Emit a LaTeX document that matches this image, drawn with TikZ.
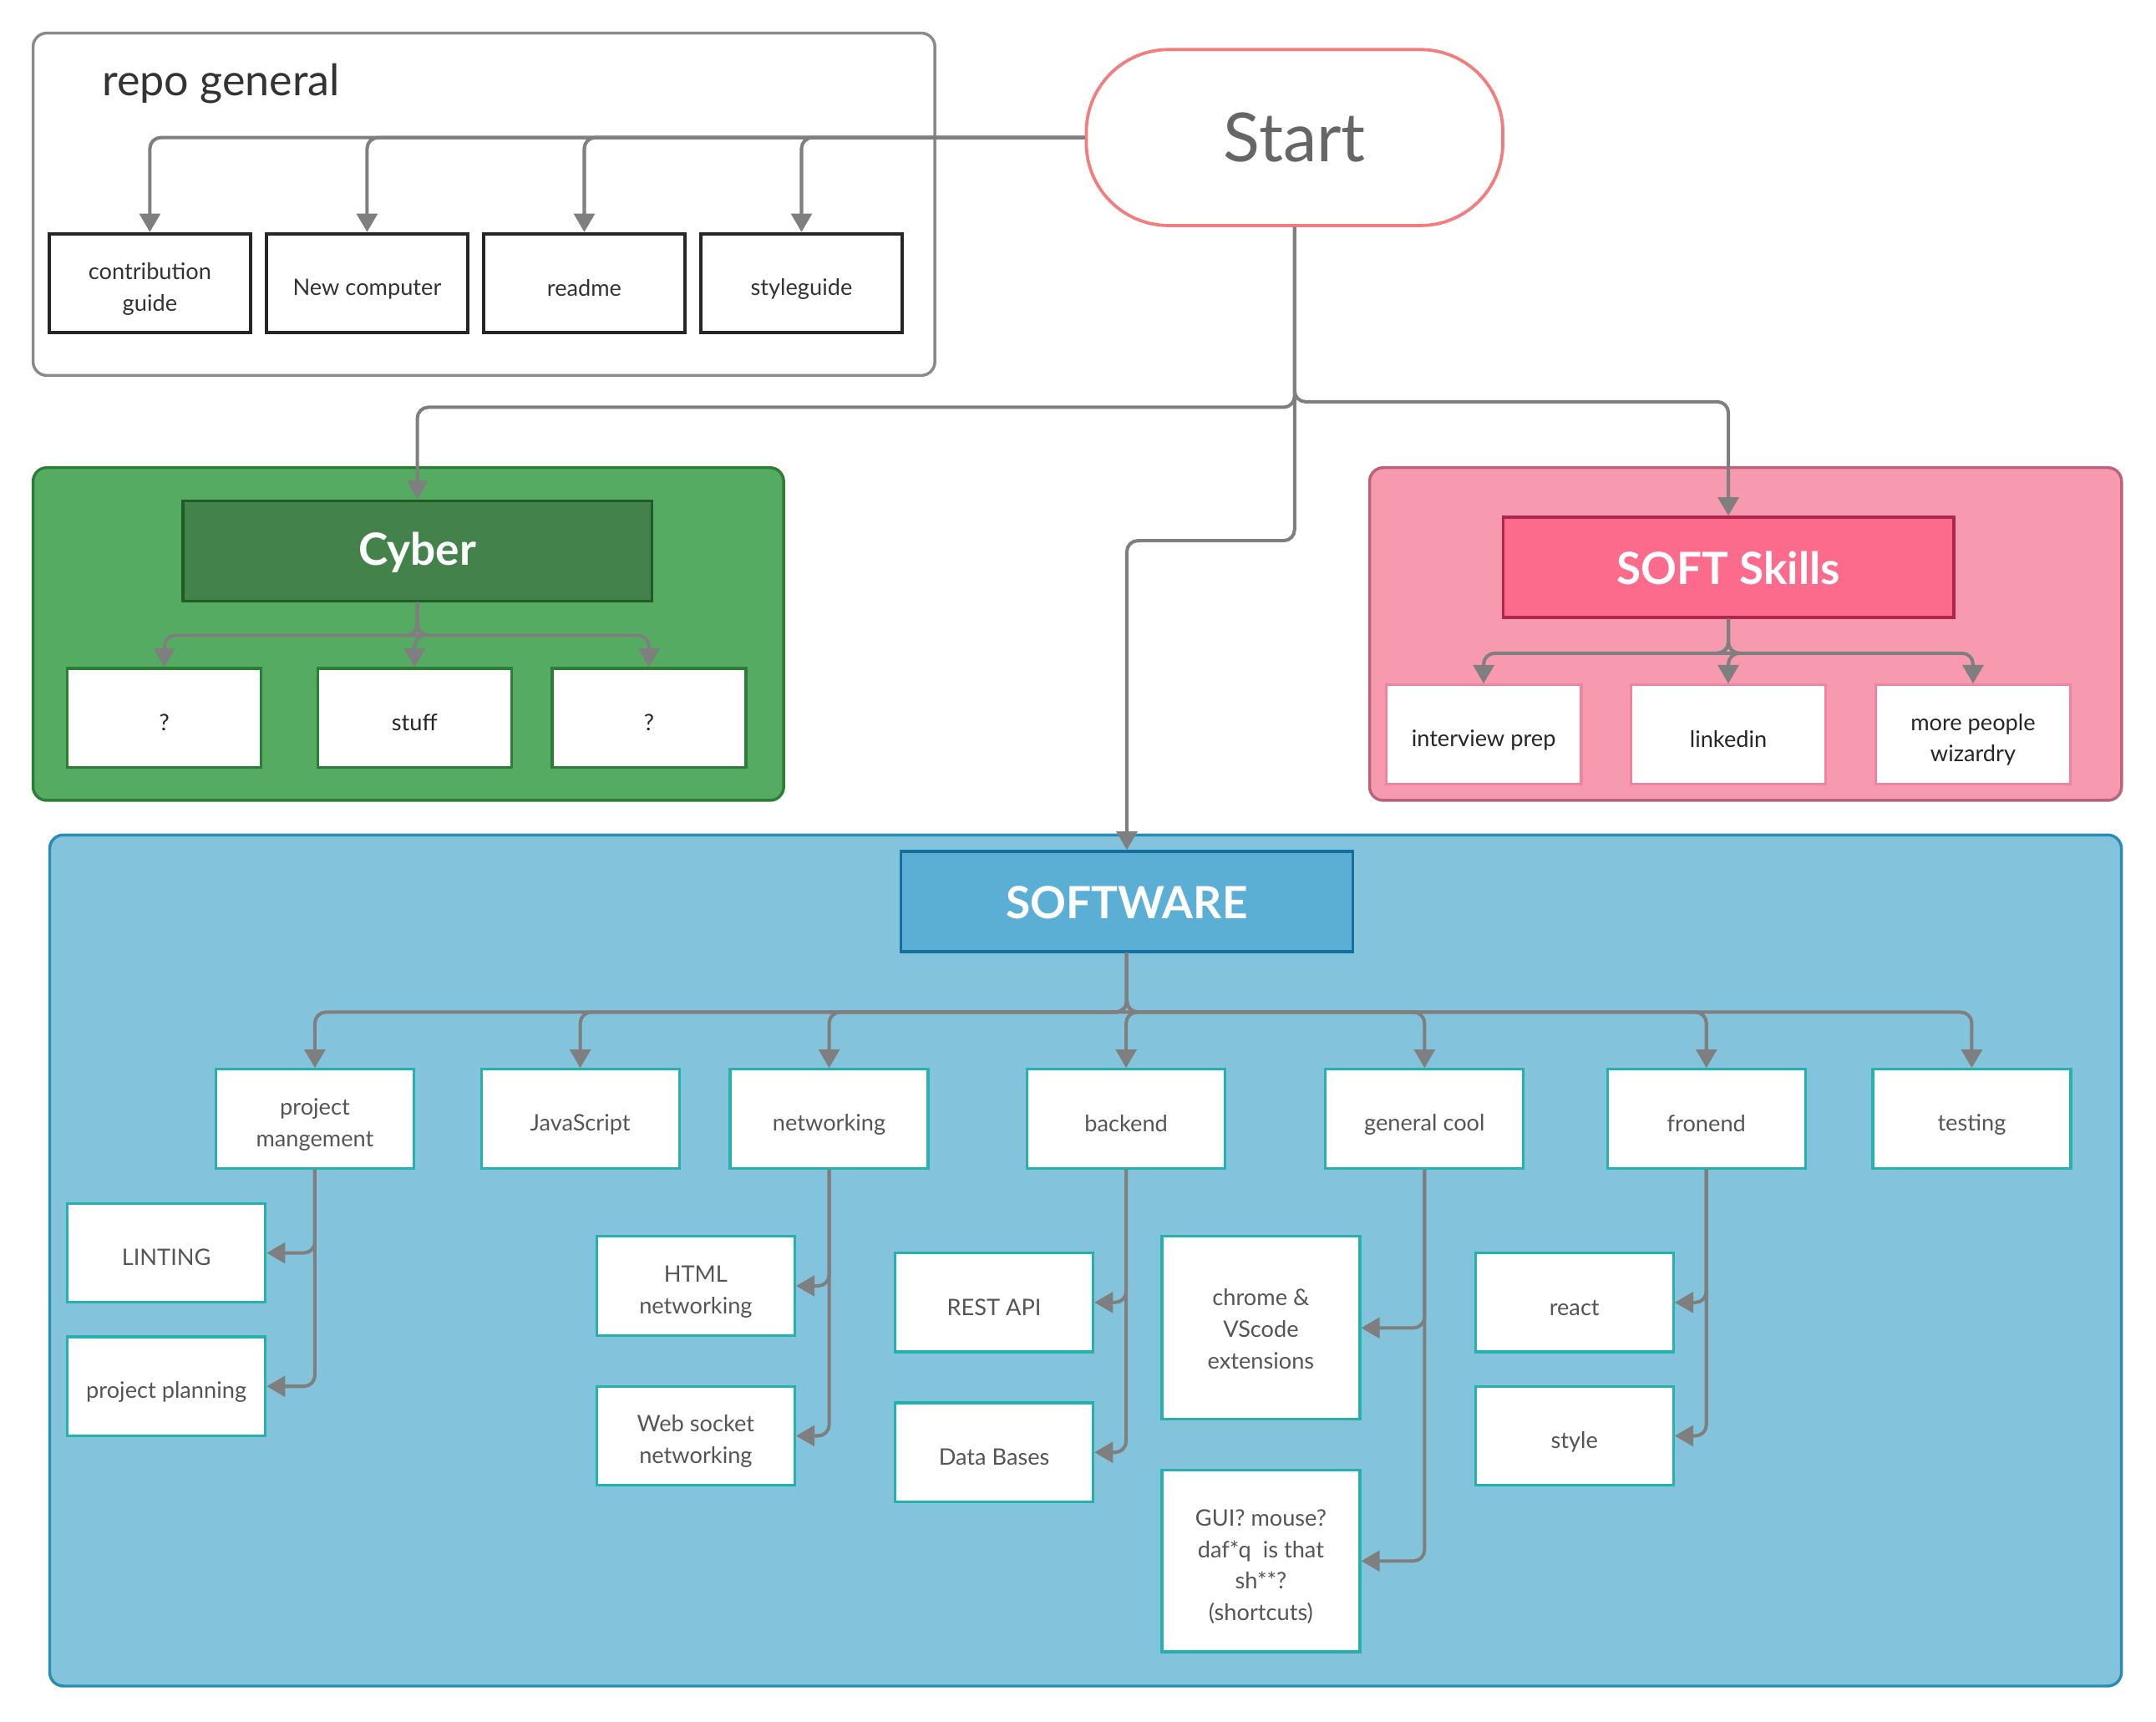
\documentclass[tikz,border=0pt]{standalone}
\usepackage{fontspec}
\setmainfont{Lato}
\usetikzlibrary{arrows.meta,positioning}

\definecolor{linkgray}{HTML}{7F7F7F}
\definecolor{repoframe}{HTML}{8A8A8A}
\definecolor{repoline}{HTML}{262626}
\definecolor{repotext}{HTML}{333333}
\definecolor{startred}{HTML}{F47C7C}
\definecolor{starttext}{HTML}{666666}
\definecolor{cyberbg}{HTML}{55AB61}
\definecolor{cyberline}{HTML}{2E7D36}
\definecolor{cyberhead}{HTML}{43834B}
\definecolor{cyberheadline}{HTML}{1F5C28}
\definecolor{softbg}{HTML}{F79AB0}
\definecolor{softline}{HTML}{B9637C}
\definecolor{softhead}{HTML}{FC6A8C}
\definecolor{softheadline}{HTML}{B0254B}
\definecolor{softleafline}{HTML}{EF83A0}
\definecolor{swbg}{HTML}{84C3DC}
\definecolor{swline}{HTML}{2A8BB3}
\definecolor{swhead}{HTML}{5BAED4}
\definecolor{swheadline}{HTML}{13709E}
\definecolor{swleafline}{HTML}{26B1AC}
\definecolor{swtext}{HTML}{555555}

\newcommand\boxfont{\fontsize{9.4}{13}\selectfont}
\newcommand\headfont{\fontsize{18.4}{22}\selectfont\bfseries}
\newcommand\leafstrut{\rule[-1.2pt]{0pt}{13pt}}
\newcommand\headstrut{\rule[-1.2pt]{0pt}{16.5pt}}

\begin{document}
\begin{tikzpicture}[x=0.02cm,y=-0.02cm,on grid,
    link/.style={draw=linkgray,line width=1.4pt,rounded corners=0.16cm,-{Triangle[width=0.3cm,length=0.27cm]}},
    frame/.style={line width=1.2pt,rounded corners=0.2cm,inner sep=0pt},
    leaf/.style={draw,fill=white,line width=1.1pt,inner sep=0pt,minimum width=2.88cm,minimum height=1.44cm,align=center,font=\boxfont,
                 execute at begin node=\leafstrut,execute at end node=\leafstrut},
    twoline/.style={text height=24pt,text depth=1.2pt},
    threeline/.style={text height=35pt,text depth=1.2pt},
    fourline/.style={text height=50.4pt,text depth=1.2pt},
    repoleaf/.style={leaf,draw=repoline,line width=1.4pt,minimum width=2.92cm,text=repotext},
    cyberleaf/.style={leaf,draw=cyberline,minimum width=2.82cm,text=black!85},
    softleaf/.style={leaf,draw=softleafline,minimum width=2.84cm,text=black!85},
    swleaf/.style={leaf,draw=swleafline,text=swtext},
    head/.style={draw,line width=1.1pt,inner sep=0pt,minimum height=1.46cm,text=white,font=\headfont,
                 execute at begin node=\headstrut}]
  \useasboundingbox (0,0) rectangle (1568,1252);

  \node[frame,draw=repoframe,fill=white,minimum width=13.12cm,minimum height=4.98cm] (repo) at (352,148.5) {};
  \node[frame,draw=cyberline,fill=cyberbg,minimum width=10.92cm,minimum height=4.84cm] (cyberframe) at (297,461) {};
  \node[frame,draw=softline,fill=softbg,minimum width=10.94cm,minimum height=4.84cm] (softframe) at (1269.5,461) {};
  \node[frame,draw=swline,fill=swbg,minimum width=30.14cm,minimum height=12.38cm] (swframe) at (789.5,916.5) {};

  \node[anchor=west,text=repotext,font=\fontsize{18}{22}\selectfont] (repotitle) at (68,61) {repo general};
  \node[draw=startred,line width=1.3pt,fill=white,rounded corners=1.2cm,minimum width=6.06cm,minimum height=2.56cm,
        text=starttext,font=\fontsize{28}{32}\selectfont] (start) at (941.5,100) {Start};

  \node[repoleaf,twoline] (contrib) at (109,206) {contribution\\guide};
  \node[repoleaf,right=3.16cm of contrib] (newpc) {New computer};
  \node[repoleaf,right=3.16cm of newpc] (readme) {readme};
  \node[repoleaf,right=3.16cm of readme] (styleguide) {styleguide};

  \node[head,fill=cyberhead,draw=cyberheadline,minimum width=6.82cm] (cyber) at (303.5,400.5) {Cyber};
  \node[cyberleaf] (cyq1) at (119.5,522) {?};
  \node[cyberleaf] (cystuff) at (301.5,522) {stuff};
  \node[cyberleaf] (cyq2) at (472,522) {?};

  \node[head,fill=softhead,draw=softheadline,minimum width=6.56cm] (soft) at (1257,412.5) {SOFT Skills};
  \node[softleaf] (interview) at (1079,534) {interview prep};
  \node[softleaf,right=3.56cm of interview] (linkedin) {linkedin};
  \node[softleaf,right=3.56cm of linkedin,twoline] (wizardry) {more people\\wizardry};

  \node[head,fill=swhead,draw=swheadline,minimum width=6.58cm] (software) at (819.5,655.5) {SOFTWARE};
  \node[swleaf,twoline] (pm) at (229,813.5) {project\\mangement};
  \node[swleaf] (js) at (422,813.5) {JavaScript};
  \node[swleaf] (net) at (603,813.5) {networking};
  \node[swleaf] (backend) at (819,813.5) {backend};
  \node[swleaf] (cool) at (1036,813.5) {general cool};
  \node[swleaf] (front) at (1241,813.5) {fronend};
  \node[swleaf] (testing) at (1434,813.5) {testing};

  \node[swleaf] (lint) at (121,911) {LINTING};
  \node[swleaf] (planning) at (121,1008) {project planning};
  \node[swleaf,twoline] (html) at (506,935) {HTML\\networking};
  \node[swleaf,twoline] (wsock) at (506,1044) {Web socket\\networking};
  \node[swleaf] (rest) at (723,947) {REST API};
  \node[swleaf] (db) at (723,1056) {Data Bases};
  \node[swleaf,threeline,minimum height=2.66cm] (chrome) at (917,965.5) {chrome \&\\VScode\\extensions};
  \node[swleaf,fourline,minimum height=2.64cm] (gui) at (917,1135) {GUI? mouse?\\daf*q\ \ is that\\sh**?\\(shortcuts)};
  \node[swleaf] (react) at (1145,947) {react};
  \node[swleaf] (style) at (1145,1044) {style};

  \foreach \n in {contrib,newpc,readme,styleguide}
    \draw[link] (start.west) -| (\n.north);

  \draw[link] (start.south) -- ++(0,131) -| (cyber.north);
  \draw[link] (start.south) -- ++(0,127) -| (soft.north);
  \draw[link] (start.south) -- ++(0,228) -| (software.north);

  \foreach \n in {cyq1,cystuff,cyq2}
    \draw[link] (cyber.south) -- ++(0,24) -| (\n.north);
  \foreach \n in {interview,linkedin,wizardry}
    \draw[link] (soft.south) -- ++(0,25) -| (\n.north);
  \foreach \n in {pm,js,net,backend,cool,front,testing}
    \draw[link] (software.south) -- ++(0,43) -| (\n.north);

  \draw[link] (pm.south) |- (lint.east);
  \draw[link] (pm.south) |- (planning.east);
  \draw[link] (net.south) |- (html.east);
  \draw[link] (net.south) |- (wsock.east);
  \draw[link] (backend.south) |- (rest.east);
  \draw[link] (backend.south) |- (db.east);
  \draw[link] (cool.south) |- (chrome.east);
  \draw[link] (cool.south) |- (gui.east);
  \draw[link] (front.south) |- (react.east);
  \draw[link] (front.south) |- (style.east);
\end{tikzpicture}
\end{document}
